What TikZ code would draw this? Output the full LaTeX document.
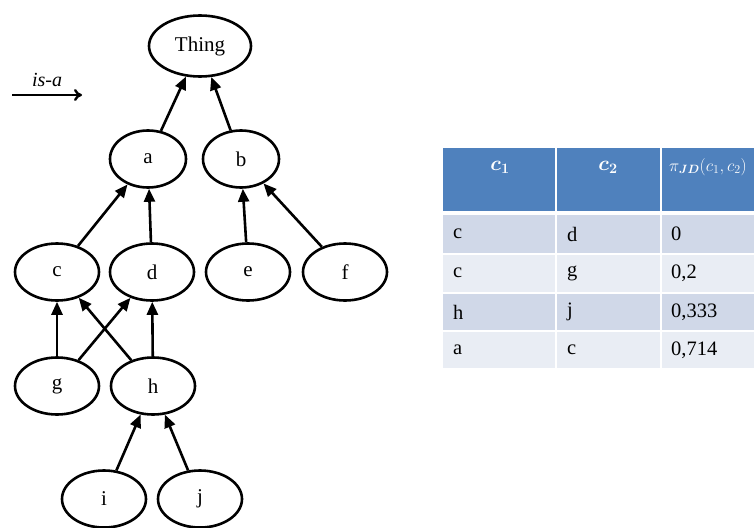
\documentclass[tikz,border=0pt]{standalone}
\usepackage{fontspec}
\setmainfont{Liberation Serif}
\usepackage{amsmath,bm}
\usetikzlibrary{arrows.meta,shapes.geometric}
\definecolor{hdrblue}{HTML}{4F81BD}
\definecolor{rowdark}{HTML}{D0D8E8}
\definecolor{rowlight}{HTML}{E9EDF4}
\tikzset{
  concept/.style={draw=black, line width=2.6pt, ellipse, minimum width=84pt, minimum height=57pt, inner sep=0pt, font=\fontsize{21}{23}\selectfont},
  narrow/.style={minimum width=76pt},
  wide/.style={minimum width=102pt, minimum height=61pt},
  isa/.style={line width=2.6pt, -{Triangle[length=13pt,width=11pt]}},
  celltext/.style={anchor=west, font=\fontsize{20.5}{22}\selectfont, inner sep=0pt},
  hdrtext/.style={text=white, font=\fontsize{21}{23}\selectfont, inner sep=0pt}
}
\begin{document}
\begin{tikzpicture}[x=1pt,y=-1pt]
\useasboundingbox (0,0) rectangle (754,527);
\fill[white] (0,0) rectangle (754,527);
% nodes
\node[concept, wide] (Thing) at (200,46) {Thing};
\node[concept, narrow] (a) at (148,159) {a};
\node[concept, narrow] (b) at (241,159) {b};
\node[concept] (c) at (57,272) {c};
\node[concept] (d) at (152,272) {d};
\node[concept] (e) at (248,272) {e};
\node[concept] (f) at (345,272) {f};
\node[concept] (g) at (57,386) {g};
\node[concept] (h) at (153,386) {h};
\node[concept] (i) at (104,499) {i};
\node[concept] (j) at (200,499) {j};
% edges
\draw[isa] (a) -- (Thing);
\draw[isa] (b) -- (Thing);
\draw[isa] (c) -- (a);
\draw[isa] (d) -- (a);
\draw[isa] (e) -- (b);
\draw[isa] (f) -- (b);
\draw[isa] (g) -- (c);
\draw[isa] (g) -- (d);
\draw[isa] (h) -- (c);
\draw[isa] (h) -- (d);
\draw[isa] (i) -- (h);
\draw[isa] (j) -- (h);
% legend
\coordinate (ls) at (12,95);
\coordinate (le) at (82,95);
\draw[line width=2.4pt, -{To[length=8pt,width=12pt]}] (ls) -- (le) node[midway, above=7pt, font=\fontsize{20}{22}\selectfont\itshape, inner sep=0pt] (isalabel) {is-a};
% table
\begin{scope}
\clip (0,0) rectangle (754,527);
\fill[hdrblue] (443,148) rectangle (555,211);
\fill[hdrblue] (557,148) rectangle (660,211);
\fill[hdrblue] (662,148) rectangle (780,211);
\foreach \yt/\yb/\col in {215/253/rowdark, 255/292/rowlight, 294/330/rowdark, 332/368/rowlight}{
  \fill[\col] (443,\yt) rectangle (555,\yb);
  \fill[\col] (557,\yt) rectangle (660,\yb);
  \fill[\col] (662,\yt) rectangle (780,\yb);
}
\node[hdrtext] (h1) at (500,167) {$\bm{c_1}$};
\node[hdrtext] (h2) at (608,167) {$\bm{c_2}$};
\node[hdrtext, anchor=west, font=\fontsize{17.5}{19}\selectfont] (h3) at (669,167) {$\pi_{\bm{JD}}(c_1,c_2)$};
\node[celltext] (r1a) at (453,234) {c};
\node[celltext] (r1b) at (567,234) {d};
\node[celltext] (r1c) at (671,234) {0};
\node[celltext] (r2a) at (453,273) {c};
\node[celltext] (r2b) at (567,273) {g};
\node[celltext] (r2c) at (671,273) {0,2};
\node[celltext] (r3a) at (453,312) {h};
\node[celltext] (r3b) at (567,312) {j};
\node[celltext] (r3c) at (671,312) {0,333};
\node[celltext] (r4a) at (453,350) {a};
\node[celltext] (r4b) at (567,350) {c};
\node[celltext] (r4c) at (671,350) {0,714};
\end{scope}
\end{tikzpicture}
\end{document}
